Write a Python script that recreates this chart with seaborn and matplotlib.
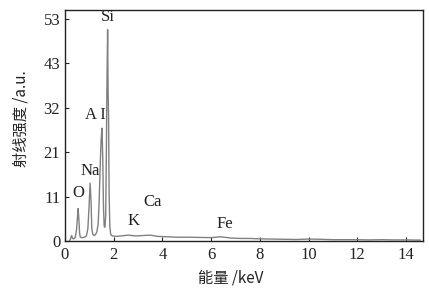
import matplotlib
matplotlib.use("Agg")
import matplotlib.pyplot as plt
import seaborn as sns
import pandas as pd

energy = [0.18, 0.22, 0.27, 0.31, 0.36, 0.42, 0.47, 0.51, 0.54, 0.57, 0.60, 0.63, 0.67,
          0.72, 0.80, 0.88, 0.94, 0.99, 1.03, 1.07, 1.10, 1.14, 1.19, 1.25, 1.31, 1.36,
          1.40, 1.44, 1.48, 1.52, 1.55, 1.58, 1.61, 1.64, 1.67, 1.70, 1.72, 1.75, 1.77,
          1.79, 1.81, 1.84, 1.88, 1.95, 2.1, 2.3, 2.6, 2.9, 3.2, 3.5, 3.8, 4.2, 4.6,
          5.0, 5.5, 6.0, 6.4, 6.8, 7.2, 7.6, 8.0, 8.5, 9.0, 9.5, 10.0, 10.5, 11.0,
          11.5, 12.0, 12.5, 13.0, 13.5, 14.0, 14.6]
intensity = [0.0, 0.4, 1.3, 0.6, 0.5, 0.8, 2.5, 5.5, 7.8, 5.2, 1.8, 0.9, 0.8,
             0.8, 0.9, 1.2, 3.0, 8.5, 13.9, 9.5, 3.0, 1.6, 1.3, 1.5, 2.2, 4.0,
             9.0, 17.0, 24.0, 27.1, 20.0, 8.0, 3.5, 3.3, 6.0, 22.0, 36.3, 50.8, 36.0,
             29.5, 12.0, 3.5, 1.5, 1.2, 1.1, 1.2, 1.4, 1.2, 1.3, 1.4, 1.1, 1.0, 0.9,
             0.9, 0.85, 0.8, 1.0, 0.7, 0.6, 0.6, 0.5, 0.45, 0.4, 0.35, 0.45, 0.4, 0.3,
             0.3, 0.3, 0.25, 0.3, 0.25, 0.25, 0.2]

elements = ["O", "Na", "A I", "Si", "K", "Ca", "Fe"]
label_x = [0.56, 1.02, 1.23, 1.75, 2.82, 3.58, 6.55]
label_y = [11.5, 16.8, 30.3, 53.9, 4.9, 9.4, 4.1]

yticks = [0, 10.667, 21.333, 32.0, 42.667, 53.333]
ytick_labels = ["0", "11", "21", "32", "43", "53"]
xticks = [0, 2, 4, 6, 8, 10, 12, 14]

sns.set_theme(style="ticks")
plt.rcParams['font.family'] = ['Liberation Serif', 'Noto Sans CJK SC']
plt.rcParams['xtick.direction'] = 'in'
plt.rcParams['ytick.direction'] = 'in'

fig = plt.figure(figsize=(4.29, 2.91), dpi=100)
ax = fig.add_axes([0.1515, 0.172, 0.8345, 0.7936])

df = pd.DataFrame({"energy": energy, "intensity": intensity})
sns.lineplot(data=df, x="energy", y="intensity", ax=ax, color="#808080", linewidth=1.0)

for name, lx, ly in zip(elements, label_x, label_y):
    ax.text(lx, ly, name, ha="center", va="center", fontsize=12, color="#222222",
            family="Liberation Serif")

ax.set_xlim(0, 14.7)
ax.set_ylim(0, 55.5)
ax.set_xticks(xticks)
ax.set_xticklabels([str(t) for t in xticks])
ax.set_yticks(yticks)
ax.set_yticklabels(ytick_labels)
ax.tick_params(axis='both', labelsize=12, length=3, width=0.8, colors="#222222")
ax.tick_params(axis='x', pad=4)
for s in ax.spines.values():
    s.set_linewidth(1.0)
    s.set_color("#222222")

ax.set_xlabel("能量 /keV", fontsize=11, family=['Noto Sans CJK SC', 'Liberation Serif'], color="#222222")
ax.set_ylabel("射线强度 /a.u.", fontsize=11, family=['Noto Sans CJK SC', 'Liberation Serif'], color="#222222")
ax.xaxis.set_label_coords(0.464, -0.125)
ax.yaxis.set_label_coords(-0.098, 0.528)

fig.savefig("out.png", dpi=100)
